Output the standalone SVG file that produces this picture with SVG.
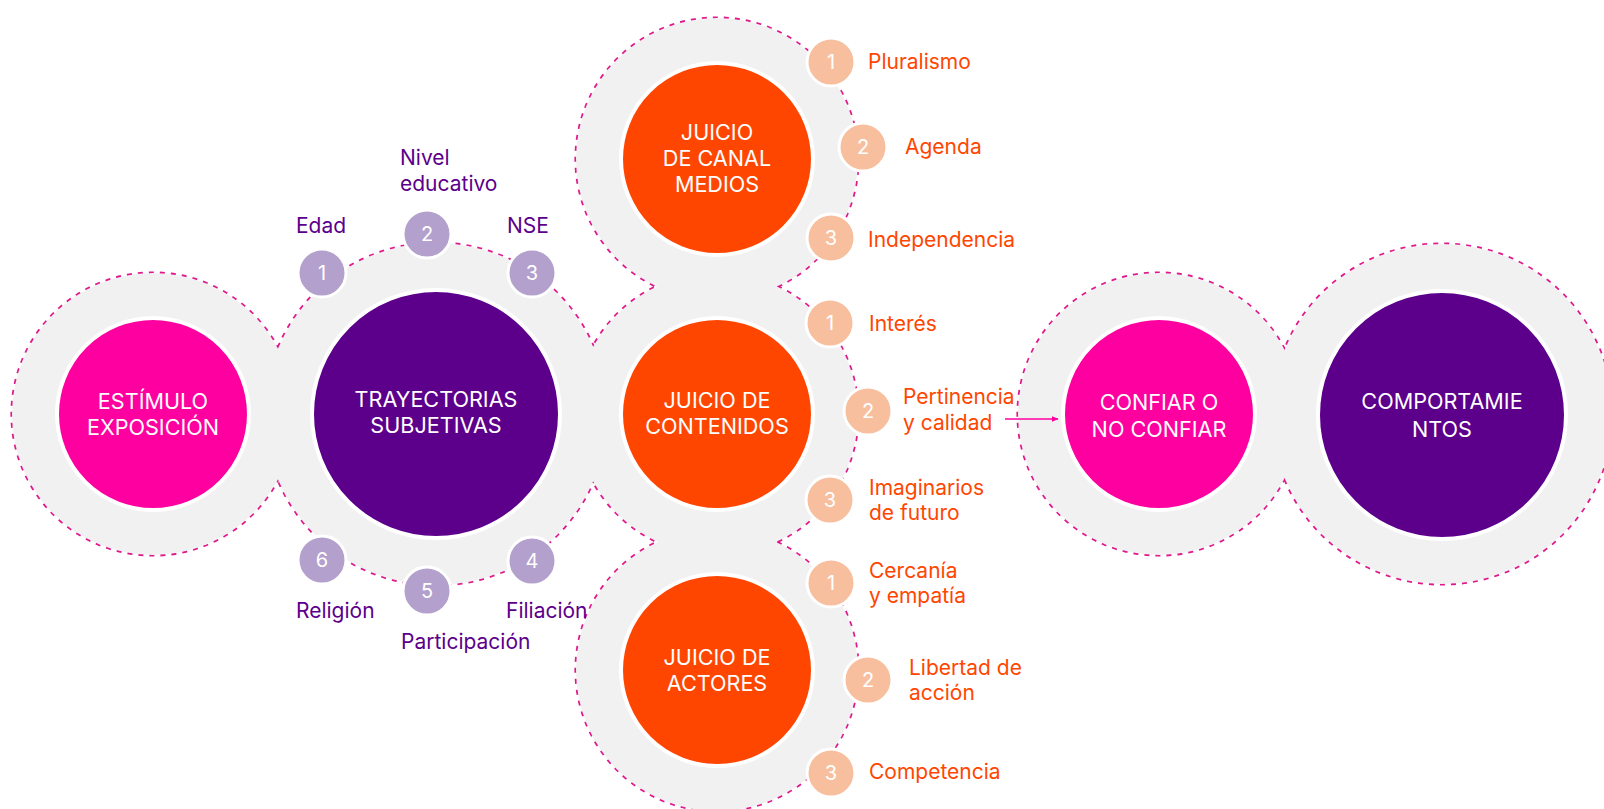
<svg xmlns="http://www.w3.org/2000/svg" width="1604" height="809" viewBox="0 0 1604 809">
<defs>
<style>
.dash{fill:none;stroke:#e0188c;stroke-width:3.2;stroke-dasharray:5 6}
.ring{fill:#f1f1f1}
.inner{stroke:#ffffff;stroke-width:4}
.pink{fill:#ff00a0}
.purple{fill:#5c008c}
.orange{fill:#ff4600}
.big{font-family:Inter,"Liberation Sans",sans-serif;font-size:21.6px;fill:#ffffff;text-anchor:middle}
.num{font-family:Inter,"Liberation Sans",sans-serif;font-size:20px;fill:#ffffff;text-anchor:middle}
.sp{fill:#b4a0cc;stroke:#ffffff;stroke-width:3}
.so{fill:#f8bf9f;stroke:#ffffff;stroke-width:3}
.lp{font-family:Inter,"Liberation Sans",sans-serif;font-size:21px;fill:#5c008c}
.lo{font-family:Inter,"Liberation Sans",sans-serif;font-size:21px;fill:#ff4600}
.conn{stroke:#ff00a0;stroke-width:1.6;fill:none}
</style>
<marker id="arr" viewBox="0 0 10 10" refX="9" refY="5" markerWidth="7" markerHeight="7" orient="auto" markerUnits="userSpaceOnUse">
<path d="M0,1 L10,5 L0,9 z" fill="#ff00a0"/>
</marker>
</defs>
<rect width="1604" height="809" fill="#ffffff"/>
<g id="rings">
<circle class="dash" cx="153" cy="414" r="141"/>
<circle class="dash" cx="436" cy="414" r="171"/>
<circle class="dash" cx="717" cy="159" r="141"/>
<circle class="dash" cx="717" cy="414" r="141"/>
<circle class="dash" cx="717" cy="670" r="141"/>
<circle class="dash" cx="1159" cy="414" r="141"/>
<circle class="dash" cx="1442" cy="414" r="170"/>
<circle class="ring" cx="153" cy="414" r="141"/>
<circle class="ring" cx="436" cy="414" r="171"/>
<circle class="ring" cx="717" cy="159" r="141"/>
<circle class="ring" cx="717" cy="414" r="141"/>
<circle class="ring" cx="717" cy="670" r="141"/>
<circle class="ring" cx="1159" cy="414" r="141"/>
<circle class="ring" cx="1442" cy="414" r="170"/>
</g>
<g id="connectors">
<line class="conn" x1="1005" y1="419" x2="1058" y2="419" marker-end="url(#arr)"/>
</g>
<g id="estimulo">
<circle class="inner pink" cx="153" cy="414" r="96"/>
<text class="big" x="153" y="409">ESTÍMULO</text>
<text class="big" x="153" y="435">EXPOSICIÓN</text>
</g>
<g id="trayectorias">
<circle class="inner purple" cx="436" cy="414" r="124"/>
<text class="big" x="436" y="407">TRAYECTORIAS</text>
<text class="big" x="436" y="433">SUBJETIVAS</text>
</g>
<g id="t1"><circle class="sp" cx="322" cy="273" r="24"/><text class="num" x="322" y="280">1</text><text class="lp" x="296" y="233">Edad</text></g>
<g id="t2"><circle class="sp" cx="427" cy="234" r="24"/><text class="num" x="427" y="241">2</text><text class="lp" x="400" y="165">Nivel</text><text class="lp" x="400" y="191">educativo</text></g>
<g id="t3"><circle class="sp" cx="532" cy="273" r="24"/><text class="num" x="532" y="280">3</text><text class="lp" x="507" y="233">NSE</text></g>
<g id="t4"><circle class="sp" cx="532" cy="561" r="24"/><text class="num" x="532" y="568">4</text><text class="lp" x="506" y="618">Filiación</text></g>
<g id="t5"><circle class="sp" cx="427" cy="591" r="24"/><text class="num" x="427" y="598">5</text><text class="lp" x="401" y="649">Participación</text></g>
<g id="t6"><circle class="sp" cx="322" cy="560" r="24"/><text class="num" x="322" y="567">6</text><text class="lp" x="296" y="618">Religión</text></g>
<g id="canal">
<circle class="inner orange" cx="717" cy="159" r="96"/>
<text class="big" x="717" y="140">JUICIO</text>
<text class="big" x="717" y="166">DE CANAL</text>
<text class="big" x="717" y="192">MEDIOS</text>
</g>
<g id="c1"><circle class="so" cx="831" cy="62" r="24"/><text class="num" x="831" y="69">1</text><text class="lo" x="868" y="69">Pluralismo</text></g>
<g id="c2"><circle class="so" cx="863" cy="147" r="24"/><text class="num" x="863" y="154">2</text><text class="lo" x="905" y="154">Agenda</text></g>
<g id="c3"><circle class="so" cx="831" cy="238" r="24"/><text class="num" x="831" y="245">3</text><text class="lo" x="868" y="247">Independencia</text></g>
<g id="contenidos">
<circle class="inner orange" cx="717" cy="414" r="96"/>
<text class="big" x="717" y="408">JUICIO DE</text>
<text class="big" x="717" y="434">CONTENIDOS</text>
</g>
<g id="k1"><circle class="so" cx="830" cy="323" r="24"/><text class="num" x="830" y="330">1</text><text class="lo" x="869" y="331">Interés</text></g>
<g id="k2"><circle class="so" cx="868" cy="411" r="24"/><text class="num" x="868" y="418">2</text><text class="lo" x="903" y="404">Pertinencia</text><text class="lo" x="903" y="430">y calidad</text></g>
<g id="k3"><circle class="so" cx="830" cy="500" r="24"/><text class="num" x="830" y="507">3</text><text class="lo" x="869" y="495">Imaginarios</text><text class="lo" x="869" y="520">de futuro</text></g>
<g id="actores">
<circle class="inner orange" cx="717" cy="670" r="96"/>
<text class="big" x="717" y="665">JUICIO DE</text>
<text class="big" x="717" y="691">ACTORES</text>
</g>
<g id="a1"><circle class="so" cx="831" cy="583" r="24"/><text class="num" x="831" y="590">1</text><text class="lo" x="869" y="578">Cercanía</text><text class="lo" x="869" y="603">y empatía</text></g>
<g id="a2"><circle class="so" cx="868" cy="680" r="24"/><text class="num" x="868" y="687">2</text><text class="lo" x="909" y="675">Libertad de</text><text class="lo" x="909" y="700">acción</text></g>
<g id="a3"><circle class="so" cx="831" cy="773" r="24"/><text class="num" x="831" y="780">3</text><text class="lo" x="869" y="779">Competencia</text></g>
<g id="confiar">
<circle class="inner pink" cx="1159" cy="414" r="96"/>
<text class="big" x="1159" y="410">CONFIAR O</text>
<text class="big" x="1159" y="437">NO CONFIAR</text>
</g>
<g id="comportamientos">
<circle class="inner purple" cx="1442" cy="415" r="124"/>
<text class="big" x="1442" y="409">COMPORTAMIE</text>
<text class="big" x="1442" y="437">NTOS</text>
</g>
</svg>
